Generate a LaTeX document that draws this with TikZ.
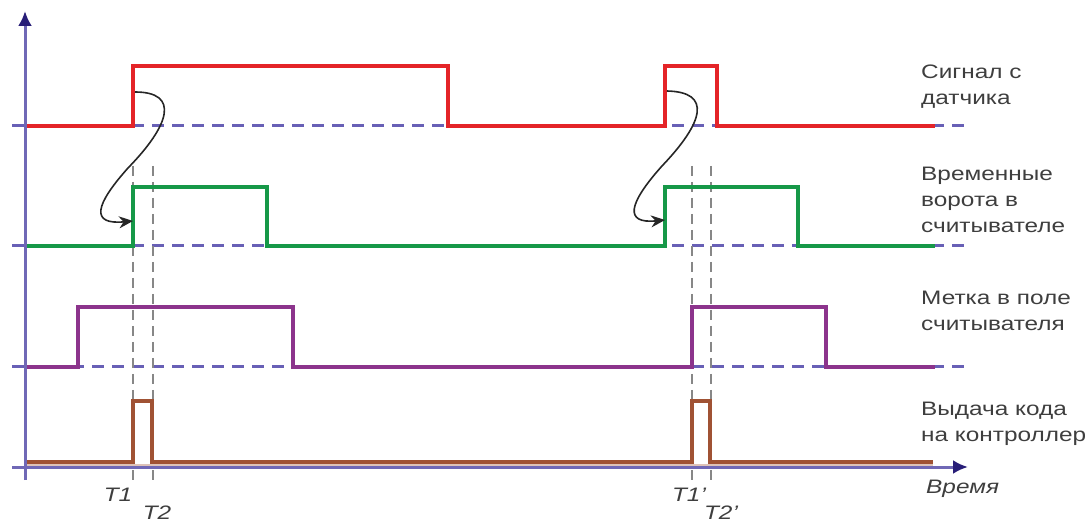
\documentclass[tikz,border=0pt]{standalone}
\usepackage{fontspec}
\setmainfont{Liberation Sans}[FakeStretch=1.25]
\usetikzlibrary{arrows.meta}
\definecolor{sigred}{RGB}{228,36,40}
\definecolor{siggreen}{RGB}{22,152,72}
\definecolor{sigpurple}{RGB}{140,52,140}
\definecolor{sigbrown}{RGB}{160,82,52}
\definecolor{axiscol}{RGB}{112,104,182}
\definecolor{tipcol}{RGB}{40,30,120}
\definecolor{basecol}{RGB}{104,96,182}
\definecolor{guidecol}{RGB}{135,135,135}
\definecolor{txtcol}{RGB}{62,62,62}
\tikzset{
  axisline/.style={draw=axiscol, line width=3pt, -{Latex[length=15pt,width=14pt,color=tipcol]}},
  baseline/.style={draw=basecol, line width=3pt, dash pattern=on 12pt off 8pt},
  guide/.style={draw=guidecol, line width=1.8pt, dash pattern=on 10pt off 6pt},
  sig/.style={line width=4.2pt, line join=miter},
  lbl/.style={font=\fontsize{19.5}{26}\selectfont, text=txtcol, align=left, anchor=base west, inner sep=0pt},
  tlbl/.style={font=\fontsize{19.5}{26}\selectfont\itshape, text=txtcol, anchor=base, inner sep=0pt},
  curve/.style={draw=black!85, line width=1.6pt, -{Stealth[length=14pt,width=12pt]}}
}
\begin{document}
\begin{tikzpicture}[x=1pt,y=-1pt]
\useasboundingbox (0,0) rectangle (1085,521);
% dashed baselines
\draw[baseline] (12,126) -- (967,126);
\draw[baseline] (12,246) -- (967,246);
\draw[baseline] (12,367) -- (967,367);
% vertical guides
\foreach \gx in {133,153,692,711}{
  \draw[guide] (\gx,166) -- (\gx,481);
}
% signals
\draw[sig, draw=sigred] (25,126) -- (133,126) -- (133,66) -- (448,66) -- (448,126) -- (665,126) -- (665,66) -- (717,66) -- (717,126) -- (935,126);
\draw[sig, draw=siggreen] (25,246) -- (133,246) -- (133,187) -- (267,187) -- (267,246) -- (665,246) -- (665,187) -- (798,187) -- (798,246) -- (935,246);
\draw[sig, draw=sigpurple] (25,367) -- (78,367) -- (78,307) -- (293,307) -- (293,367) -- (692,367) -- (692,307) -- (826,307) -- (826,367) -- (935,367);
\draw[line width=2.5pt, draw=sigbrown!35] (25,465) -- (933,465);
\draw[sig, draw=sigbrown, line width=3.6pt] (25,462) -- (133,462) -- (133,401) -- (152,401) -- (152,462) -- (692,462) -- (692,401) -- (710,401) -- (710,462) -- (933,462);
% axes
\coordinate (ybot) at (25,480);
\coordinate (ytop) at (25,11);
\coordinate (xleft) at (12,467);
\coordinate (xright) at (968,467);
\draw[axisline] (ybot) -- (ytop);
\draw[axisline] (xleft) -- (xright);
% curved arrows
\coordinate (c1s) at (135,92);
\coordinate (c1m) at (128,168);
\coordinate (c1e) at (133,221);
\draw[curve] (c1s) .. controls (180,92) and (170,125) .. (c1m) .. controls (95,205) and (90,225) .. (c1e);
\coordinate (c2s) at (667,91);
\coordinate (c2m) at (662,166);
\coordinate (c2e) at (665,220);
\draw[curve] (c2s) .. controls (712,92) and (704,122) .. (c2m) .. controls (628,204) and (624,224) .. (c2e);
% labels (anchored at the baseline of the last line)
\node[lbl] (l1) at (921,105) {Сигнал с\\датчика};
\node[lbl] (l2) at (921,233) {Временные\\ворота в\\считывателе};
\node[lbl] (l3) at (921,331) {Метка в поле\\считывателя};
\node[lbl] (l4) at (921,441) {Выдача кода\\на контроллер};
\node[tlbl] (t1) at (118,501) {T1};
\node[tlbl] (t2) at (157,519) {T2};
\node[tlbl] (t1p) at (689,501) {T1'};
\node[tlbl] (t2p) at (721,519) {T2'};
\node[tlbl, anchor=base west] (time) at (926,493) {Время};
\end{tikzpicture}
\end{document}
